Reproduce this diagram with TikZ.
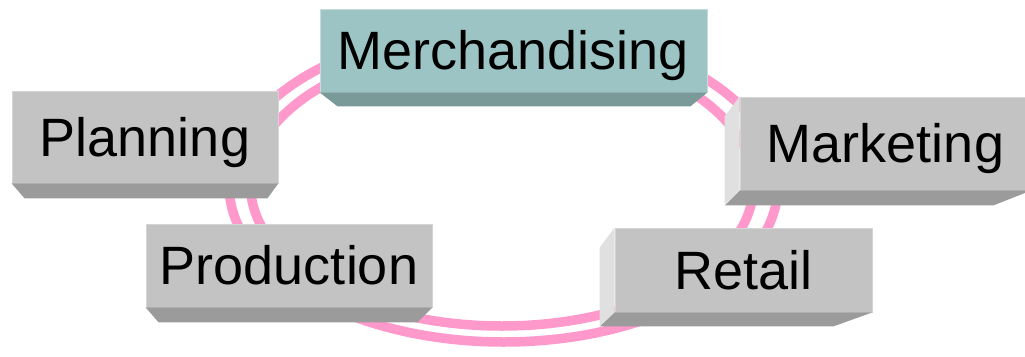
\documentclass[tikz,border=0pt]{standalone}
\usepackage{fontspec}
\setmainfont{Liberation Sans}
\usepackage{tikz}
\usetikzlibrary{calc}
\definecolor{ringpink}{HTML}{FF99CC}
\definecolor{boxgrey}{HTML}{C3C3C3}
\definecolor{boxdark}{HTML}{9B9B9B}
\definecolor{boxlight}{HTML}{E0E0E0}
\definecolor{merchteal}{HTML}{9CC4C4}
\definecolor{merchdark}{HTML}{7A9A9A}
\tikzset{
  box/.style={fill=boxgrey, draw=boxgrey!70!white, line width=0.8pt, inner sep=0pt,
    text height=38.5pt, text depth=0pt, font=\fontsize{54}{60}\selectfont},
  merchbox/.style={box, fill=merchteal, draw=merchteal!60!white},
  boxbottom/.style={fill=boxdark},
  boxside/.style={fill=boxlight},
  ring/.style={draw=ringpink, line width=9.5pt}
}

\begin{document}
\begin{tikzpicture}[x=1pt,y=-1pt]
    \useasboundingbox (0,0) rectangle (1025,356);

    \draw[ring] (503.5,185) ellipse [x radius=274.5, y radius=157];
    \draw[ring] (502,185) ellipse [x radius=251.5, y radius=141];

    \node[merchbox, minimum width=387pt, minimum height=83pt] at (513.5, 50.5) (merch) {Merchandising};
    \node[box, minimum width=266pt, minimum height=92pt] at (145, 137) (plan) {Planning};
    \node[box, minimum width=291pt, minimum height=93pt] at (885.5, 143.5) (mkt) {Marketing};
    \node[box, minimum width=286pt, minimum height=83pt] at (289, 265.5) (prod) {Production};
    \node[box, minimum width=257pt, minimum height=84pt] at (743.5, 270) (retail) {Retail};

    \fill[merchdark] (merch.south west)--(merch.south east)--($(merch.south east)+(-17,14)$)--($(merch.south west)+(18,14)$)--cycle;
    \fill[boxbottom] (plan.south west)--(plan.south east)--($(plan.south east)+(-11,15)$)--($(plan.south west)+(13,15)$)--cycle;
    \fill[boxbottom] (prod.south west)--(prod.south east)--($(prod.south east)+(-15,15)$)--($(prod.south west)+(13,15)$)--cycle;
    \fill[boxbottom] (mkt.south west)--(mkt.south east)--($(mkt.south east)+(-38,15)$)--($(mkt.south west)+(-15,15)$)--cycle;
    \fill[boxside] (mkt.north west)--(mkt.south west)--($(mkt.south west)+(-15,15)$)--($(mkt.north west)+(-15,20)$)--cycle;
    \fill[boxbottom] (retail.south west)--(retail.south east)--($(retail.south east)+(-39,14)$)--($(retail.south west)+(-15,14)$)--cycle;
    \fill[boxside] (retail.north west)--(retail.south west)--($(retail.south west)+(-15,14)$)--($(retail.north west)+(-15,20)$)--cycle;
    \end{tikzpicture}
\end{document}
